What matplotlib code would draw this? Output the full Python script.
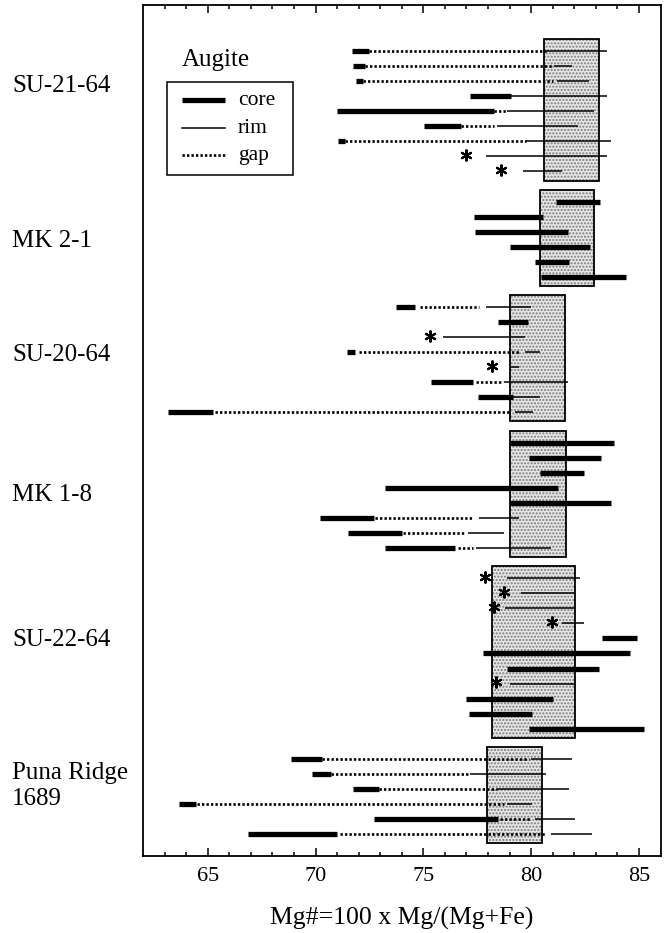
import numpy as np
import matplotlib
matplotlib.use("Agg")
import matplotlib.pyplot as plt
from matplotlib.patches import Rectangle
from matplotlib.transforms import blended_transform_factory

plt.rcParams['font.family'] = ['Liberation Serif', 'DejaVu Serif']

# sample names, top to bottom
groups = ["SU-21-64", "MK 2-1", "SU-20-64", "MK 1-8", "SU-22-64", "Puna Ridge\n1689"]

# Mg# ranges per crystal (None = not present)
core = {
    "SU-21-64": [(71.7, 72.5), (71.75, 72.3), (71.9, 72.2), (77.15, 79.05), (71.0, 78.3),
                 (75.05, 76.75), (71.05, 71.35), None, None],
    "MK 2-1": [(81.15, 83.2), (77.35, 80.55), (77.4, 81.7), (79.0, 82.75), (80.2, 81.75), (80.45, 84.4)],
    "SU-20-64": [(73.75, 74.6), (78.45, 79.85), None, (71.45, 71.85), None, (75.35, 77.3),
                 (77.55, 79.15), (63.15, 65.25)],
    "MK 1-8": [(79.0, 83.85), (79.9, 83.25), (80.4, 82.45), (73.2, 81.25), (79.0, 83.7),
               (70.2, 72.7), (71.5, 74.0), (73.2, 76.45)],
    "SU-22-64": [None, None, None, None, (83.3, 84.9), (77.75, 84.6), (78.9, 83.15), None,
                 (77.0, 81.0), (77.1, 80.05), (79.9, 85.25)],
    "Puna Ridge\n1689": [(68.85, 70.3), (69.85, 70.7), (71.75, 72.95), (63.65, 64.45),
                         (72.7, 78.45), (66.85, 71.0)],
}
gap = {
    "SU-21-64": [(72.5, 80.7), (72.3, 80.95), (72.2, 81.0), None, (78.3, 78.9),
                 (76.75, 78.3), (71.35, 79.75), None, None],
    "MK 2-1": [None] * 6,
    "SU-20-64": [(74.85, 77.6), None, None, (72.0, 79.45), None, (77.45, 78.7), None, (65.35, 79.05)],
    "MK 1-8": [None, None, None, None, None, (72.75, 77.3), (74.05, 76.9), (76.6, 77.3)],
    "SU-22-64": [None] * 11,
    "Puna Ridge\n1689": [(70.3, 79.9), (70.7, 77.15), (72.95, 78.4), (64.5, 78.75),
                         (78.55, 80.0), (71.15, 80.7)],
}
rim = {
    "SU-21-64": [(80.7, 83.5), (81.05, 81.9), (81.2, 82.7), (79.05, 83.5), (78.9, 82.9),
                 (78.4, 82.15), (79.75, 83.7), (77.9, 83.5), (79.6, 81.45)],
    "MK 2-1": [None] * 6,
    "SU-20-64": [(77.9, 80.0), None, (75.9, 79.7), (79.7, 80.4), (79.0, 79.45), (78.75, 81.7),
                 (79.15, 80.4), (79.25, 80.1)],
    "MK 1-8": [None, None, None, None, None, (77.6, 79.45), (77.05, 78.75), (77.45, 80.9)],
    "SU-22-64": [(78.9, 82.25), (79.55, 82.0), (78.8, 82.0), (81.45, 82.45), None, None, None,
                 (79.0, 82.0), None, None, None],
    "Puna Ridge\n1689": [(80.0, 81.9), (77.15, 80.7), (78.4, 81.75), (78.9, 80.05),
                         (80.2, 82.05), (80.9, 82.8)],
}
star = {
    "SU-21-64": [None] * 7 + [77.0, 78.6],
    "MK 2-1": [None] * 6,
    "SU-20-64": [None, None, 75.3, None, 78.2, None, None, None],
    "MK 1-8": [None] * 8,
    "SU-22-64": [77.85, 78.75, 78.3, 80.95, None, None, None, 78.35, None, None, None],
    "Puna Ridge\n1689": [None] * 6,
}
# shaded equilibrium range per sample
box_range = {
    "SU-21-64": (80.6, 83.15),
    "MK 2-1": (80.4, 82.9),
    "SU-20-64": (79.0, 81.55),
    "MK 1-8": (79.0, 81.6),
    "SU-22-64": (78.2, 82.05),
    "Puna Ridge\n1689": (77.95, 80.5),
}
legend_labels = ["core", "rim", "gap"]

core_lw, rim_lw, gap_lw = 3.8, 1.1, 1.9
gap_dash = (0.9, 0.8)

fig = plt.figure(figsize=(6.67, 9.33), dpi=100)
ax = fig.add_axes([0.2144, 0.0825, 0.7759, 0.9121])

row = 0
for g in groups:
    n = len(core[g])
    ys = np.arange(row, row + n)
    lo, hi = box_range[g]
    ax.add_patch(Rectangle((lo, ys[0] - 0.8), hi - lo, n - 1 + 1.4, facecolor='#e6e6e6',
                           edgecolor='#7a7a7a', hatch='.....', lw=0, zorder=1))
    ax.add_patch(Rectangle((lo, ys[0] - 0.8), hi - lo, n - 1 + 1.4, fill=False,
                           edgecolor='black', lw=1.3, zorder=2))
    for i, y in enumerate(ys):
        if gap[g][i]:
            ax.plot(gap[g][i], [y, y], color='black', lw=gap_lw, dashes=gap_dash,
                    dash_capstyle='butt', zorder=3)
        if rim[g][i]:
            ax.plot(rim[g][i], [y, y], color='black', lw=rim_lw, solid_capstyle='butt', zorder=3)
        if core[g][i]:
            ax.plot(core[g][i], [y, y], color='black', lw=core_lw, solid_capstyle='butt', zorder=4)
        if star[g][i]:
            ax.plot(star[g][i], y - 0.1, marker=(6, 2, 0), ms=8.5, mew=1.5, color='black', zorder=4)
    row += n + 1

ax.set_xlim(62, 86)
ax.set_ylim(53.45, -3.05)
ax.set_yticks([])
ax.set_xticks(np.arange(65, 86, 5))
ax.set_xticks(np.arange(63, 86, 1), minor=True)
ax.tick_params(axis='x', which='both', direction='in', top=True, width=1.1, labelsize=16, pad=8)
ax.tick_params(axis='x', which='major', length=6)
ax.tick_params(axis='x', which='minor', length=3)
for s in ax.spines.values():
    s.set_linewidth(1.3)
ax.set_xlabel("Mg#=100 x Mg/(Mg+Fe)", fontsize=18.5, labelpad=15)

# sample names on the left
trans = blended_transform_factory(fig.transFigure, ax.transData)
name_y = [2.3, 12.6, 20.2, 29.5, 39.1, 48.8]
for g, y in zip(groups, name_y):
    ax.text(0.018, y, g, transform=trans, fontsize=18, ha='left', va='center', linespacing=1.2)

# legend drawn by hand, in axes fractions
ax.text(0.074, 0.935, "Augite", transform=ax.transAxes, fontsize=18, ha='left', va='center')
ax.add_patch(Rectangle((0.046, 0.8002), 0.2447, 0.1097, transform=ax.transAxes, fill=False,
                       edgecolor='black', lw=1.1, zorder=5))
styles = [dict(lw=core_lw, solid_capstyle='butt'), dict(lw=rim_lw), dict(lw=gap_lw, dashes=gap_dash)]
for lab, st, fy in zip(legend_labels, styles, [0.8884, 0.8555, 0.8237]):
    ax.plot([0.0748, 0.1584], [fy, fy], transform=ax.transAxes, color='black', zorder=5, **st)
    ax.text(0.1836, fy, lab, transform=ax.transAxes, fontsize=15.5, ha='left', va='center')

fig.savefig("out.png", dpi=100)
